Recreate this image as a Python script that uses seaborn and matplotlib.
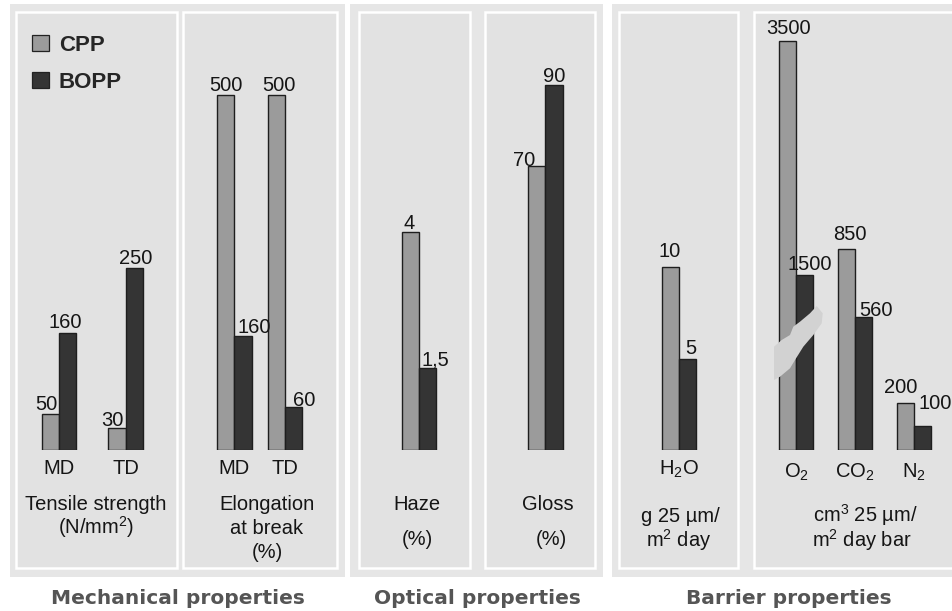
import matplotlib
matplotlib.use("Agg")
import matplotlib.pyplot as plt
from matplotlib.patches import Rectangle, Polygon, Patch
import pandas as pd
import seaborn as sns

# === DATA ===
FILMS = ["CPP", "BOPP"]
DIRECTIONS = ["MD", "TD"]
TENSILE_CPP = [50, 30]
TENSILE_BOPP = [160, 250]
ELONGATION_CPP = [500, 500]
ELONGATION_BOPP = [160, 60]
HAZE_CPP = [4]
HAZE_BOPP = [1.5]
GLOSS_CPP = [70]
GLOSS_BOPP = [90]
WATER = ["H2O"]
WATER_CPP = [10]
WATER_BOPP = [5]
GASES = ["O2", "CO2", "N2"]
GAS_CPP = [3500, 850, 200]
GAS_BOPP = [1500, 560, 100]

TICK_TEXT = {"MD": "MD", "TD": "TD",
             "H2O": r"$\mathregular{H_2O}$", "O2": r"$\mathregular{O_2}$",
             "CO2": r"$\mathregular{CO_2}$", "N2": r"$\mathregular{N_2}$"}

# === STYLE ===
W, H = 952, 611
BASE, TOP = 450, 15          # bar baseline / top of plotting area (px)
COLORS = {"CPP": "#9b9b9b", "BOPP": "#343434"}
SECTION_BG = "#e6e6e6"
PANEL_BG = "#e2e2e2"
TXT = "#151515"
FS = 14.5

sns.set_theme(style="white")
plt.rcParams["font.family"] = ["Liberation Sans", "DejaVu Sans"]


def fx(x):
    return x / W


def fy(y):
    return 1 - y / H


def frame(cats, cpp, bopp):
    return pd.DataFrame({"cat": list(cats) * 2,
                         "film": ["CPP"] * len(cats) + ["BOPP"] * len(cats),
                         "value": list(cpp) + list(bopp)})


fig = plt.figure(figsize=(W / 100, H / 100), dpi=100)
fig.patch.set_facecolor("white")

# === BACKGROUND BOXES ===
for x0, x1 in [(10, 345), (350, 603), (612, 960)]:
    fig.add_artist(Rectangle((fx(x0), fy(577)), fx(x1 - x0), (577 - 4) / H,
                             transform=fig.transFigure, facecolor=SECTION_BG,
                             edgecolor="none", zorder=-3))
for x0, x1 in [(16, 177), (183, 337), (359, 470), (485, 595), (619, 738), (754, 990)]:
    fig.add_artist(Rectangle((fx(x0), fy(568)), fx(x1 - x0), (568 - 12) / H,
                             transform=fig.transFigure, facecolor=PANEL_BG,
                             edgecolor="white", linewidth=1.8, zorder=-2))


def bar_panel(df, order, x_first, spacing, px_per_unit, offsets, pad_px=24,
              labels=True):
    n = len(order)
    left = x_first - 0.5 * spacing
    ax = fig.add_axes([fx(left), fy(BASE), fx(n * spacing), (BASE - TOP) / H])
    sns.barplot(data=df, x="cat", y="value", hue="film", order=order,
                hue_order=FILMS, palette=COLORS, saturation=1, width=34.5 / spacing,
                edgecolor="#1e1e1e", linewidth=1.0, legend=False, ax=ax)
    ax.set_xlim(-0.5, n - 0.5)
    ax.set_ylim(0, (BASE - TOP) / px_per_unit)
    ax.set_facecolor("none")
    sns.despine(ax=ax, left=True, bottom=True)
    ax.set_yticks([])
    ax.set_xlabel("")
    ax.set_ylabel("")
    if labels:
        ax.set_xticks(range(n), [TICK_TEXT[c] for c in order])
        ax.tick_params(axis="x", length=0, pad=pad_px * 0.72, labelsize=FS,
                       labelcolor=TXT)
        for t in ax.get_xticklabels():
            t.set_verticalalignment("baseline")
    else:
        ax.set_xticks([])
    for film, cont in zip(FILMS, ax.containers):
        for bar, val in zip(cont, cont.datavalues):
            if pd.isna(val):
                continue
            cat = order[int(round(bar.get_x() + bar.get_width() / 2))]
            if (cat, film) not in offsets:
                continue
            dx, dy = offsets[(cat, film)]
            txt = f"{val:g}".replace(".", ",")
            ax.annotate(txt, (bar.get_x() + bar.get_width() / 2, bar.get_height()),
                        xytext=(dx * 0.72, dy * 0.72), textcoords="offset points",
                        ha="center", va="baseline", fontsize=FS, color=TXT)
    return ax


# Mechanical
bar_panel(frame(DIRECTIONS, TENSILE_CPP, TENSILE_BOPP), DIRECTIONS, 58.8, 66.7, 0.73,
          {("MD", "CPP"): (-4, 3), ("MD", "BOPP"): (-2, 5),
           ("TD", "CPP"): (-4, 2), ("TD", "BOPP"): (2, 4)})
bar_panel(frame(DIRECTIONS, ELONGATION_CPP, ELONGATION_BOPP), DIRECTIONS, 234.3, 50.7, 0.71,
          {("MD", "CPP"): (0, 4), ("TD", "CPP"): (3, 4),
           ("MD", "BOPP"): (11, 3), ("TD", "BOPP"): (11, 1)})

# Optical
bar_panel(frame(["Haze"], HAZE_CPP, HAZE_BOPP), ["Haze"], 419, 70, 54.4,
          {("Haze", "CPP"): (-1, 3), ("Haze", "BOPP"): (8, 3)}, labels=False)
bar_panel(frame(["Gloss"], GLOSS_CPP, GLOSS_BOPP), ["Gloss"], 545.3, 70, 4.06,
          {("Gloss", "CPP"): (-13, 0), ("Gloss", "BOPP"): (0, 3)}, labels=False)

# Barrier
bar_panel(frame(WATER, WATER_CPP, WATER_BOPP), WATER, 679, 70, 18.3,
          {("H2O", "CPP"): (-1, 10), ("H2O", "BOPP"): (3, 4)}, pad_px=25)
gas_df = frame(GASES, GAS_CPP, GAS_BOPP)
bar_panel(gas_df[gas_df["cat"] != "O2"], GASES, 796, 59, 0.237,
          {("CO2", "CPP"): (4, 9), ("CO2", "BOPP"): (12, 1),
           ("N2", "CPP"): (-5, 10), ("N2", "BOPP"): (13, 17)}, pad_px=28)
# O2 drawn with a compressed (broken) scale
bar_panel(gas_df[gas_df["cat"] == "O2"], GASES, 796, 59, 0.117,
          {("O2", "CPP"): (1, 7), ("O2", "BOPP"): (5, 5)}, labels=False)

# axis-break mark across the O2 bars
blob = [(816.7, 306), (822.7, 313.3), (821.7, 323.3), (813.3, 335), (803.3, 346.7),
        (795, 360), (790, 368.3), (780, 376.7), (774, 380), (774, 346.7),
        (781.7, 340), (790, 335), (793.3, 326.7), (800, 321.7), (810, 313.3)]
fig.add_artist(Polygon([(fx(x), fy(y)) for x, y in blob], closed=True,
                       transform=fig.transFigure, facecolor="#d2d2d2",
                       edgecolor="none", zorder=5))

# === PROPERTY / UNIT TEXT ===
lines = [
    (96, 510, "Tensile strength"), (96, 534, r"(N/$\mathregular{mm^2}$)"),
    (267, 510, "Elongation"), (267, 534, "at break"), (267, 558, "(%)"),
    (417, 510, "Haze"), (417, 545, "(%)"),
    (548, 510, "Gloss"), (551, 545, "(%)"),
    (680, 522, "g 25 µm/"), (679, 547, r"$\mathregular{m^2}$ day"),
    (865, 522, r"$\mathregular{cm^3}$ 25 µm/"), (862, 547, r"$\mathregular{m^2}$ day bar"),
]
for x, y, s in lines:
    fig.text(fx(x), fy(y), s, ha="center", va="baseline", fontsize=FS, color=TXT)

for x, s in [(178, "Mechanical properties"), (477, "Optical properties"),
             (789, "Barrier properties")]:
    fig.text(fx(x), fy(604), s, ha="center", va="baseline", fontsize=14.5,
             fontweight="bold", color="#555555", family="DejaVu Sans")

# === LEGEND ===
handles = [Patch(facecolor=COLORS[f], edgecolor="#222222", linewidth=0.9) for f in FILMS]
fig.legend(handles, FILMS, loc="upper left", bbox_to_anchor=(fx(32), fy(35)),
           frameon=False, prop={"weight": "bold", "size": 16},
           handlelength=0.75, handleheight=0.75, handletextpad=0.45,
           labelspacing=0.72, borderpad=0, borderaxespad=0)

fig.savefig("out.png", dpi=100)
